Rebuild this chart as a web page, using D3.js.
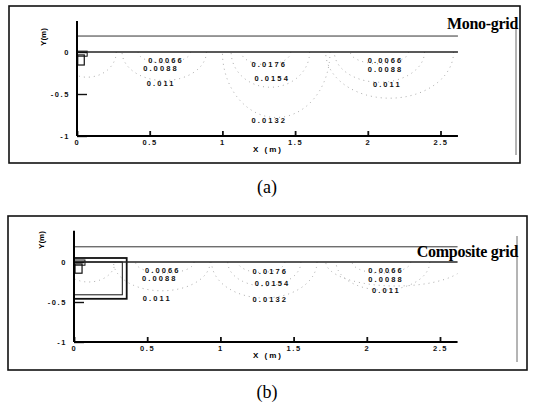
<!DOCTYPE html>
<html>
<head>
<meta charset="utf-8">
<script src="https://cdn.jsdelivr.net/npm/d3@7"></script>
<style>
  body { margin: 0; background: #fff; }
  svg { display: block; }
  .tick text { font-family: "Liberation Sans", Arial, sans-serif; font-weight: bold; font-size: 7.5px; letter-spacing: 1.6px; fill: #111; }
</style>
</head>
<body>
<div id="chart"></div>
<script>
// axis ticks (shared by both panels)
const xTicks = [0, 0.5, 1, 1.5, 2, 2.5];
const xTickLabels = ["0", "0.5", "1", "1.5", "2", "2.5"];
const yTicks = [0, -0.5, -1];
const yTickLabels = ["0", "-0.5", "-1"];
const xMax = 2.62;
const topLineY = 0.19;

// contour labels, panel (a)
const labelsA = [
    {text: "0.0066", x: 0.49, y: -0.13},
    {text: "0.0088", x: 0.455, y: -0.23},
    {text: "0.011", x: 0.48, y: -0.405},
    {text: "0.0176", x: 1.2, y: -0.18},
    {text: "0.0154", x: 1.22, y: -0.345},
    {text: "0.0132", x: 1.2, y: -0.845},
    {text: "0.0066", x: 2.0, y: -0.13},
    {text: "0.0088", x: 2.0, y: -0.24},
    {text: "0.011", x: 2.035, y: -0.415}
];
// contour labels, panel (b)
const labelsB = [
    {text: "0.0066", x: 0.485, y: -0.14},
    {text: "0.0088", x: 0.465, y: -0.24},
    {text: "0.011", x: 0.47, y: -0.49},
    {text: "0.0176", x: 1.22, y: -0.15},
    {text: "0.0154", x: 1.235, y: -0.3},
    {text: "0.0132", x: 1.22, y: -0.5},
    {text: "0.0066", x: 2.01, y: -0.14},
    {text: "0.0088", x: 2.01, y: -0.25},
    {text: "0.011", x: 2.035, y: -0.39}
];

// contour lines (half ellipses under the free surface): centre, half width, depth
const contoursA = [
    {cx: 0.07, rx: 0.2, depth: 0.3},
    {cx: 0.6, rx: 0.29, depth: 0.34},
    {cx: 0.6, rx: 0.18, depth: 0.13},
    {cx: 1.37, rx: 0.37, depth: 0.78},
    {cx: 1.33, rx: 0.27, depth: 0.42},
    {cx: 1.3, rx: 0.17, depth: 0.15},
    {cx: 2.08, rx: 0.31, depth: 0.36},
    {cx: 2.08, rx: 0.2, depth: 0.14},
    {cx: 2.15, rx: 0.44, depth: 0.55}
];
const contoursB = [
    {cx: 0.1, rx: 0.18, depth: 0.25},
    {cx: 0.6, rx: 0.33, depth: 0.36},
    {cx: 0.62, rx: 0.2, depth: 0.14},
    {cx: 1.3, rx: 0.36, depth: 0.45},
    {cx: 1.3, rx: 0.25, depth: 0.3},
    {cx: 1.28, rx: 0.16, depth: 0.13},
    {cx: 2.11, rx: 0.32, depth: 0.35},
    {cx: 2.1, rx: 0.2, depth: 0.14},
    {cx: 2.2, rx: 0.48, depth: 0.3}
];

// solid blocks drawn near the origin: x0, x1, y0, y1 (data units)
const blocksA = [
    {x0: 0.005, x1: 0.05, y0: -0.035, y1: -0.155, w: 1.2},
    {x0: 0, x1: 0.07, y0: 0.01, y1: -0.05, w: 1}
];
const blocksB = [
    {x0: 0.007, x1: 0.055, y0: -0.025, y1: -0.14, w: 1.2},
    {x0: 0, x1: 0.075, y0: 0.025, y1: -0.04, w: 1},
    {x0: 0, x1: 0.36, y0: 0.05, y1: -0.46, w: 1.8},
    {x0: 0, x1: 0.33, y0: 0, y1: -0.41, w: 1}
];

const svg = d3.select("#chart").append("svg")
    .attr("width", 533)
    .attr("height", 403);

function drawPanel(p) {
    let g = svg.append("g");

    // outer frame
    g.append("rect")
        .attr("x", p.box[0]).attr("y", p.box[1])
        .attr("width", p.box[2] - p.box[0]).attr("height", p.box[3] - p.box[1])
        .attr("fill", "none").attr("stroke", "#111").attr("stroke-width", 1.6);
    g.append("line")
        .attr("x1", p.rightLine).attr("x2", p.rightLine)
        .attr("y1", p.box[1] + 20).attr("y2", p.box[3] - 8)
        .attr("stroke", "#444").attr("stroke-width", 0.8);

    let x = d3.scaleLinear().domain([0, xMax]).range([p.x0, p.x0 + p.xUnit * xMax]);
    let y = d3.scaleLinear().domain([-1, p.yTop]).range([p.y0 + p.yUnit, p.y0 - p.yUnit * p.yTop]);

    g.append("clipPath").attr("id", "clip" + p.id)
        .append("rect")
        .attr("x", x(0)).attr("y", y(0) - 1)
        .attr("width", x(xMax) - x(0)).attr("height", y(-1) - y(0) + 1);

    // contours
    let arcLine = d3.line().x(d => x(d[0])).y(d => y(d[1]));
    let thetas = d3.range(0, 181, 3).map(a => a * Math.PI / 180);
    g.append("g").attr("clip-path", "url(#clip" + p.id + ")")
        .selectAll("path")
        .data(p.contours)
        .join("path")
        .attr("d", c => arcLine(thetas.map(t => [c.cx + c.rx * Math.cos(t), -c.depth * Math.sin(t)])))
        .attr("fill", "none")
        .attr("stroke", "#a0a0a0")
        .attr("stroke-width", 0.9)
        .attr("stroke-dasharray", "1,4");

    // contour labels
    g.selectAll(".clab")
        .data(p.labels)
        .join("text")
        .attr("class", "clab")
        .attr("x", d => x(d.x))
        .attr("y", d => y(d.y))
        .attr("font-family", "Liberation Sans, Arial, sans-serif")
        .attr("font-weight", "bold")
        .attr("font-size", 7.5)
        .attr("letter-spacing", 2.1)
        .attr("fill", "#111")
        .text(d => d.text);

    // blocks
    g.selectAll(".block")
        .data(p.blocks)
        .join("rect")
        .attr("class", "block")
        .attr("x", d => x(d.x0)).attr("y", d => y(d.y0))
        .attr("width", d => x(d.x1) - x(d.x0)).attr("height", d => y(d.y1) - y(d.y0))
        .attr("fill", "none").attr("stroke", "#111")
        .attr("stroke-width", d => d.w);

    // free surface and top line
    g.append("line")
        .attr("x1", x(0)).attr("x2", x(xMax))
        .attr("y1", y(0)).attr("y2", y(0))
        .attr("stroke", "#222").attr("stroke-width", 1.4);
    g.append("line")
        .attr("x1", x(0)).attr("x2", x(xMax))
        .attr("y1", y(topLineY)).attr("y2", y(topLineY))
        .attr("stroke", "#333").attr("stroke-width", 1);

    // axes
    let xAxis = d3.axisBottom(x).tickValues(xTicks)
        .tickFormat((d, i) => xTickLabels[i])
        .tickSize(-5).tickPadding(4);
    let gx = g.append("g")
        .attr("transform", `translate(0,${y(-1)})`)
        .call(xAxis);
    gx.select(".domain").remove();
    gx.selectAll(".tick line").attr("stroke", "#111").attr("stroke-width", 1.8);

    let yAxis = d3.axisLeft(y).tickValues(yTicks)
        .tickFormat((d, i) => yTickLabels[i])
        .tickSize(-10).tickPadding(7);
    let gy = g.append("g")
        .attr("transform", `translate(${x(0)},0)`)
        .call(yAxis);
    gy.select(".domain").remove();
    gy.selectAll(".tick line").attr("stroke", "#111").attr("stroke-width", 1.4);
    gy.selectAll(".tick text").attr("letter-spacing", 1);

    g.append("line")
        .attr("x1", x(0)).attr("x2", x(xMax))
        .attr("y1", y(-1)).attr("y2", y(-1))
        .attr("stroke", "#000").attr("stroke-width", 2);
    g.append("line")
        .attr("x1", x(0)).attr("x2", x(0))
        .attr("y1", y(-1)).attr("y2", y(p.yTop))
        .attr("stroke", "#000").attr("stroke-width", 2);

    // axis titles
    g.append("text")
        .attr("x", 268).attr("y", y(-1) + 16)
        .attr("text-anchor", "middle")
        .attr("font-family", "Liberation Sans, Arial, sans-serif")
        .attr("font-weight", "bold")
        .attr("font-size", 8)
        .attr("letter-spacing", 2)
        .text("X (m)");
    g.append("text")
        .attr("transform", `translate(${p.yTitle[0]},${p.yTitle[1]}) rotate(-90)`)
        .attr("text-anchor", "middle")
        .attr("font-family", "Liberation Sans, Arial, sans-serif")
        .attr("font-weight", "bold")
        .attr("font-size", 8)
        .text("Y(m)");

    // panel title and caption
    g.append("text")
        .attr("x", p.titleX).attr("y", p.titleY)
        .attr("text-anchor", "end")
        .attr("font-family", "Liberation Serif, Times New Roman, serif")
        .attr("font-weight", "bold")
        .attr("font-size", 16)
        .attr("letter-spacing", -0.3)
        .text(p.title);
    g.append("text")
        .attr("x", 267).attr("y", p.captionY)
        .attr("text-anchor", "middle")
        .attr("font-family", "Liberation Serif, Times New Roman, serif")
        .attr("font-size", 18)
        .text(p.caption);
}

drawPanel({
    id: "a", box: [9, 6, 520, 163], rightLine: 516,
    x0: 77, xUnit: 145.4, y0: 52, yUnit: 84, yTop: 0.37,
    contours: contoursA, labels: labelsA, blocks: blocksA,
    yTitle: [46, 37], title: "Mono-grid", titleX: 518, titleY: 29,
    caption: "(a)", captionY: 193
});
drawPanel({
    id: "b", box: [8, 216, 527, 370], rightLine: 517,
    x0: 74, xUnit: 146.4, y0: 262, yUnit: 80, yTop: 0.39,
    contours: contoursB, labels: labelsB, blocks: blocksB,
    yTitle: [44, 240], title: "Composite grid", titleX: 518, titleY: 257,
    caption: "(b)", captionY: 398
});
</script>
</body>
</html>
